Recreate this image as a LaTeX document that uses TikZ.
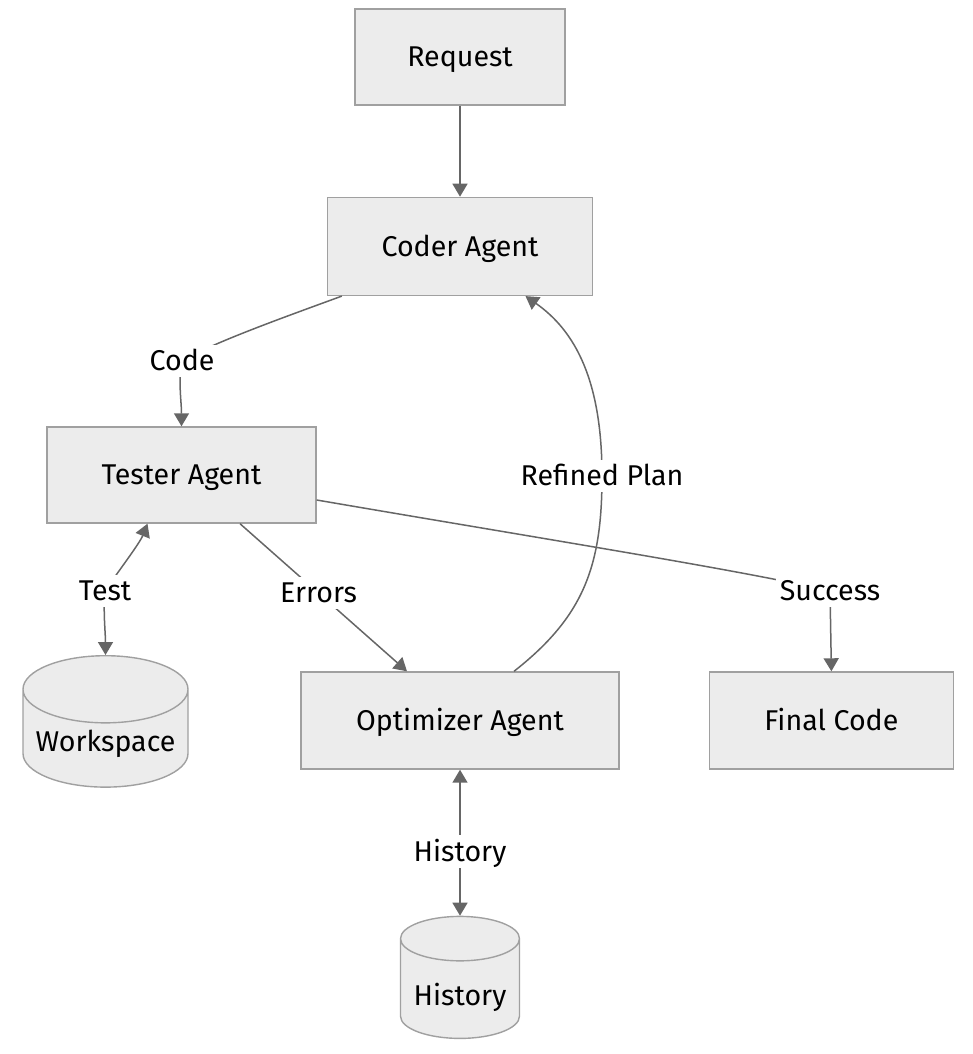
\documentclass[tikz,border=0pt]{standalone}
\usepackage{fontspec}
\setmainfont{Fira Sans}
\usetikzlibrary{arrows.meta,positioning,shapes.geometric}
\definecolor{nodefill}{HTML}{ECECEC}
\definecolor{nodeline}{HTML}{A0A0A0}
\definecolor{edgeline}{HTML}{666666}

\begin{document}
\begin{tikzpicture}[
  x=1pt, y=-1pt,
  font=\fontsize{28.6}{33}\selectfont,
  agent/.style={draw=nodeline, line width=1.4pt, fill=nodefill, minimum height=96pt, inner sep=0pt,
    text height=22pt, text depth=2.3pt},
  store/.style={cylinder, shape border rotate=90, aspect=0.48, draw=nodeline, line width=1.4pt, fill=nodefill, inner sep=0pt,
    text height=36pt, text depth=2pt},
  arr/.style={-{Triangle[length=13pt, width=15pt]}, line width=1.5pt, edgeline},
  biarr/.style={{Triangle[length=13pt, width=15pt]}-{Triangle[length=13pt, width=15pt]}, line width=1.5pt, edgeline},
  lbl/.style={fill=white, text=black, inner sep=4pt, text height=22pt, text depth=2.3pt}
]
\useasboundingbox (0,0) rectangle (972,1054);

\node[agent, minimum width=210pt] (request) at (460,57) {Request};
\node[agent, minimum width=265pt, minimum height=98pt, below=91pt of request] (coder) {Coder Agent};
\node[agent, minimum width=269pt] (tester) at (181.5,475) {Tester Agent};
\node[agent, minimum width=318pt, minimum height=97pt] (optimizer) at (460,720.5) {Optimizer Agent};
\node[agent, minimum width=244pt, minimum height=97pt, right=89pt of optimizer] (final) {Final Code};
\node[store, minimum width=165pt, minimum height=123pt, text height=28pt, anchor=north] (workspace) at (105.5,655) {Workspace};
\node[store, minimum width=119pt, minimum height=122pt, below=146pt of optimizer] (history) {History};

\draw[arr] (request) -- (coder);
\draw[arr] ([xshift=15pt]coder.south west) .. controls +(-60,22) and +(30,-18) .. (182,361) node[lbl] {Code}
  .. controls +(-4,20) and +(0,-25) .. (tester.north);
\draw[biarr] ([xshift=-34pt]tester.south) .. controls +(-8,20) and +(12,-18) .. (105,591) node[lbl] {Test}
  .. controls +(-2,20) and +(0,-22) .. (workspace.north);
\draw[arr] ([xshift=58.5pt]tester.south) -- node[lbl, pos=0.47] {Errors} ([xshift=-53pt]optimizer.north);
\draw[arr] ([xshift=54pt]optimizer.north) .. controls +(70,-55) and +(0,90) .. (602,476) node[lbl] {Refined Plan}
  .. controls +(0,-95) and +(50,35) .. ([xshift=65.5pt]coder.south);
\draw[arr] ([yshift=-25pt]tester.east) .. controls (550,540) and (740,570) .. (830,591) node[lbl] {Success}
  -- (final.north);
\draw[biarr] (optimizer.south) -- node[lbl, pos=0.56] {History} (history.north);
\end{tikzpicture}
\end{document}
